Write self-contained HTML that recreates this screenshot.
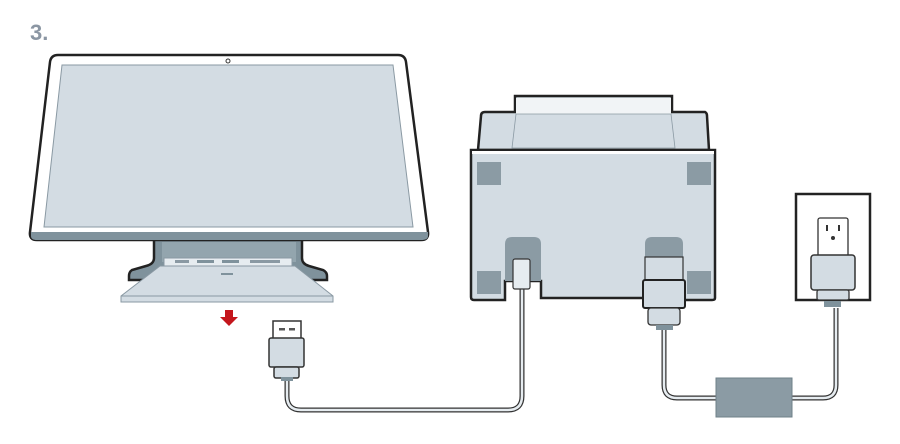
<!DOCTYPE html>
<html><head><style>html,body{margin:0;padding:0;background:#fff}svg{display:block}</style></head>
<body>
<svg width="900" height="444" viewBox="0 0 900 444" xmlns="http://www.w3.org/2000/svg">
<text x="30" y="40" font-family="Liberation Sans, sans-serif" font-weight="bold" font-size="22" fill="#8b96a3">3.</text>
<!-- stand -->
<path d="M154 238 L154 258 Q154 264 146 266 L132 270 Q129 272 129 276 L129 280 L327 280 L327 276 Q327 272 323 270 L309 266 Q302 264 302 258 L302 238 Z" fill="#7f929c" stroke="#222" stroke-width="2.5"/>
<path d="M162 242 L296 242 L296 262 L162 262 Z" fill="#93a5ae"/>
<!-- monitor -->
<path d="M58 55 L398 55 Q405 55 406 62 L428 232 Q429 240 421 240 L37 240 Q29 240 30 232 L50 62 Q51 55 58 55 Z" fill="#fff" stroke="#222" stroke-width="2.5"/>
<path d="M31 232 L428 232 L428 236 Q428 240 421 240 L37 240 Q31 240 31 236 Z" fill="#7f929c"/>
<path d="M62 65 L393 65 L413 227 L44 227 Z" fill="#d3dce3" stroke="#8a99a3" stroke-width="1"/>
<circle cx="228" cy="61" r="2" fill="none" stroke="#333" stroke-width="1"/>
<!-- base plate -->
<path d="M164 258 L292 258 L292 266 L164 266 Z" fill="#e6ecf0" stroke="#8a99a3" stroke-width="1"/>
<rect x="175" y="260" width="14" height="3" fill="#8a99a3"/><rect x="197" y="260" width="17" height="3" fill="#7f929c"/><rect x="222" y="260" width="17" height="3" fill="#7f929c"/><rect x="250" y="260" width="30" height="3" fill="#8a99a3"/>
<path d="M160 266 L295 266 L333 296 L333 302 L121 302 L121 296 Z" fill="#d3dce3" stroke="#8a99a3" stroke-width="1"/>
<path d="M121 296 L333 296" stroke="#8a99a3" stroke-width="1"/>
<rect x="221" y="273" width="12" height="2" fill="#7f929c"/>
<!-- red arrow -->
<path d="M225 310 L233 310 L233 317 L238 317 L229 326 L220 317 L225 317 Z" fill="#c4161c"/>
<!-- USB cable -->
<path d="M287 378 L287 396 Q287 410 301 410 L508 410 Q522 410 522 396 L522 288" fill="none" stroke="#333" stroke-width="5"/>
<path d="M287 378 L287 396 Q287 410 301 410 L508 410 Q522 410 522 396 L522 288" fill="none" stroke="#e6ecf0" stroke-width="2.5"/>
<rect x="273" y="321" width="28" height="18" fill="#fff" stroke="#333" stroke-width="1.5"/>
<rect x="279" y="328" width="6" height="2.5" fill="#555"/><rect x="289" y="328" width="6" height="2.5" fill="#555"/>
<rect x="269" y="338" width="35" height="29" rx="2" fill="#d3dce3" stroke="#333" stroke-width="1.5"/>
<rect x="274" y="367" width="25" height="11" rx="2" fill="#d3dce3" stroke="#333" stroke-width="1.5"/>
<rect x="281" y="377" width="12" height="4" fill="#7f929c"/>
<!-- printer -->
<path d="M515 96 L672 96 L672 112 L705 112 Q707 113 707 116 L709 150 L478 150 L481 116 Q481 112 485 112 L515 112 Z" fill="#d3dce3" stroke="#222" stroke-width="2.5"/>
<path d="M516 98 L671 98 L671 114 L516 114 Z" fill="#f1f4f6"/>
<path d="M516 114 L671 114 L675 148 L512 148 Z" fill="#d3dce3" stroke="#8a99a3" stroke-width="0.8"/>
<path d="M471 150 L715 150 L715 298 Q715 300 712 300 L683 300 L683 281 L645 281 L645 298 L541 298 L541 281 L505 281 L505 300 L474 300 Q471 300 471 297 Z" fill="#d3dce3" stroke="#222" stroke-width="2.5"/>
<rect x="472" y="151" width="242" height="3" fill="#fff"/>
<rect x="477" y="162" width="24" height="23" fill="#8b9ba4"/><rect x="687" y="162" width="24" height="23" fill="#8b9ba4"/>
<rect x="477" y="271" width="24" height="23" fill="#8b9ba4"/><rect x="687" y="271" width="24" height="23" fill="#8b9ba4"/>
<path d="M505 281 L505 244 Q505 237 512 237 L534 237 Q541 237 541 244 L541 281 Z" fill="#8b9ba4"/>
<path d="M645 281 L645 244 Q645 237 652 237 L676 237 Q683 237 683 244 L683 281 Z" fill="#8b9ba4"/>
<rect x="513" y="259" width="17" height="30" rx="2" fill="#e6ecf0" stroke="#333" stroke-width="1.2"/>
<rect x="645" y="257" width="38" height="23" fill="#d3dce3" stroke="#333" stroke-width="1.2"/>
<!-- power cable -->
<path d="M664 330 L664 385 Q664 398 677 398 L823 398 Q836 398 836 385 L836 308" fill="none" stroke="#333" stroke-width="5"/>
<path d="M664 330 L664 385 Q664 398 677 398 L823 398 Q836 398 836 385 L836 308" fill="none" stroke="#e6ecf0" stroke-width="2.5"/>
<rect x="643" y="280" width="42" height="28" rx="2" fill="#d3dce3" stroke="#222" stroke-width="2"/>
<rect x="648" y="308" width="32" height="17" rx="3" fill="#d3dce3" stroke="#333" stroke-width="1.3"/>
<rect x="656" y="325" width="17" height="5" fill="#7f929c"/>
<rect x="716" y="378" width="76" height="39" fill="#8b9ba4" stroke="#6f8089" stroke-width="1"/>
<!-- outlet -->
<rect x="796" y="194" width="74" height="106" fill="#fff" stroke="#222" stroke-width="2.5"/>
<rect x="818" y="218" width="30" height="40" rx="2" fill="#fff" stroke="#333" stroke-width="1.3"/>
<rect x="826" y="225" width="2" height="6" fill="#333"/><rect x="838" y="225" width="2" height="6" fill="#333"/>
<circle cx="833" cy="238" r="2" fill="#333"/>
<rect x="811" y="255" width="44" height="35" rx="3" fill="#d3dce3" stroke="#333" stroke-width="1.5"/>
<rect x="817" y="290" width="32" height="10" rx="2" fill="#d3dce3" stroke="#333" stroke-width="1.3"/>
<rect x="824" y="301" width="17" height="6" fill="#7f929c"/>
</svg>
</body></html>
